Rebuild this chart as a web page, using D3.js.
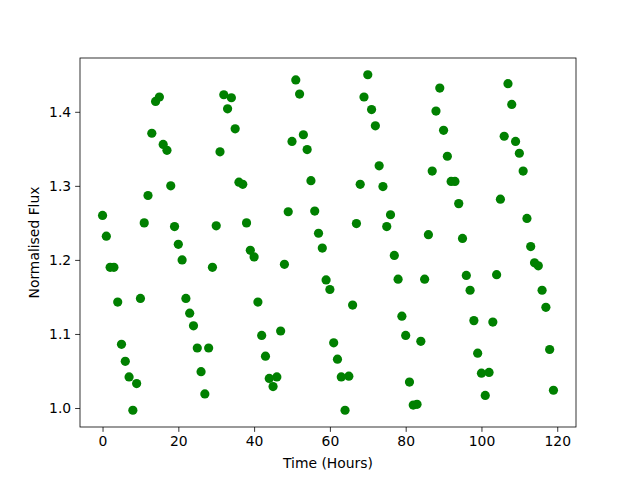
<!DOCTYPE html>
<html><head><meta charset="utf-8">
<script src="https://cdn.jsdelivr.net/npm/d3@7"></script>
<style>body{margin:0;background:#fff}svg text{font-family:"DejaVu Sans",sans-serif}</style>
</head><body>
<svg id="c" width="640" height="480"></svg>
<script>
const hours = d3.range(0, 120);
const flux = [1.26,1.232,1.19,1.19,1.143,1.086,1.063,1.042,0.997,1.033,
1.148,1.25,1.287,1.371,1.414,1.42,1.356,1.348,1.30,1.245,
1.221,1.20,1.148,1.128,1.111,1.081,1.049,1.019,1.081,1.19,
1.246,1.346,1.423,1.404,1.419,1.377,1.305,1.302,1.25,1.213,
1.204,1.143,1.098,1.07,1.040,1.029,1.042,1.104,1.194,1.265,
1.36,1.443,1.424,1.369,1.349,1.307,1.266,1.236,1.216,1.173,
1.16,1.088,1.066,1.042,0.997,1.043,1.139,1.249,1.302,1.42,
1.45,1.403,1.381,1.327,1.299,1.245,1.261,1.206,1.174,1.124,
1.098,1.035,1.004,1.005,1.09,1.174,1.234,1.32,1.401,1.432,
1.375,1.34,1.306,1.306,1.276,1.229,1.179,1.159,1.118,1.074,
1.047,1.017,1.048,1.116,1.18,1.282,1.367,1.438,1.41,1.36,
1.344,1.32,1.256,1.218,1.196,1.192,1.159,1.136,1.079,1.024];
const xTicks = [0,20,40,60,80,100,120];
const yTicks = [1.0,1.1,1.2,1.3,1.4];

const svg = d3.select("#c");
const L=80, R=576, T=58, B=427;
const xmin=d3.min(hours), xmax=d3.max(hours), xm=(xmax-xmin)*0.05;
const ymin=d3.min(flux), ymax=d3.max(flux), ym=(ymax-ymin)*0.05;
const x = d3.scaleLinear().domain([xmin-xm, xmax+xm]).range([L,R]);
const y = d3.scaleLinear().domain([ymin-ym, ymax+ym]).range([B,T]);

svg.append("g").selectAll("circle").data(hours).join("circle")
  .attr("cx", (d)=>x(d)).attr("cy", (d,i)=>y(flux[i])).attr("r", 4.6)
  .attr("fill","#008000");

const xa = svg.append("g").attr("transform",`translate(0,${B})`)
  .call(d3.axisBottom(x).tickValues(xTicks).tickSize(4.86).tickPadding(4).tickFormat(d3.format("d")));
const ya = svg.append("g").attr("transform",`translate(${L},0)`)
  .call(d3.axisLeft(y).tickValues(yTicks).tickSize(4.86).tickPadding(4).tickFormat(d3.format(".1f")));
[xa,ya].forEach(a=>{
  a.select(".domain").remove();
  a.selectAll("line").attr("stroke","#000").attr("stroke-width",0.8);
  a.selectAll("text").attr("font-size","13.9px").attr("fill","#000").attr("font-family","DejaVu Sans");
});
svg.append("rect").attr("x",L).attr("y",T).attr("width",R-L).attr("height",B-T)
  .attr("fill","none").attr("stroke","#000").attr("stroke-width",0.8);

svg.append("text").attr("x",(L+R)/2).attr("y",468).attr("text-anchor","middle")
  .attr("font-size","13.9px").text("Time (Hours)");
svg.append("text").attr("transform",`translate(39,${(T+B)/2}) rotate(-90)`).attr("text-anchor","middle")
  .attr("font-size","13.9px").text("Normalised Flux");
</script>
</body></html>
